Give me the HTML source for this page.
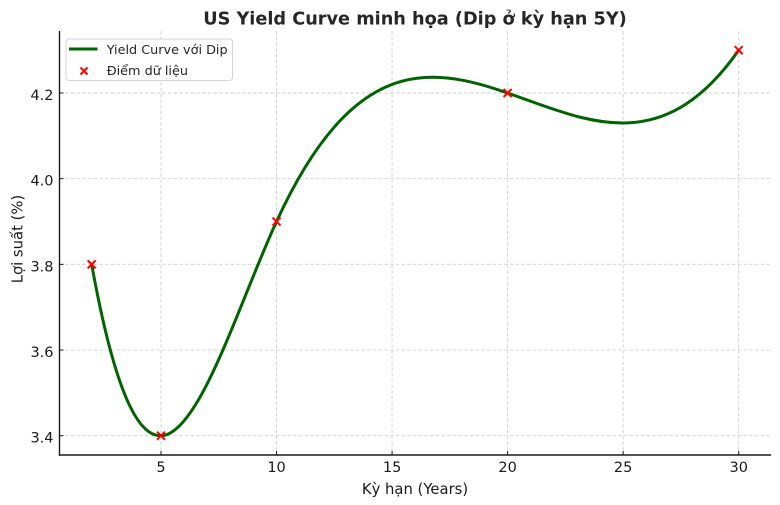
<!DOCTYPE html>
<html>
<head>
<meta charset="utf-8">
<style>
  html, body { margin: 0; padding: 0; background: #ffffff; }
  svg { display: block; }
  text { font-family: "DejaVu Sans", "Liberation Sans", "Noto Sans CJK SC", sans-serif; }
</style>
</head>
<body>
<svg width="780" height="505" viewBox="0 0 780 505" xmlns="http://www.w3.org/2000/svg">
  <rect x="0" y="0" width="780" height="505" fill="#ffffff"/>

  <!-- grid -->
  <g stroke="#cfcfcf" stroke-width="0.9" stroke-dasharray="3.5,2.2" fill="none">
    <line x1="161" y1="31" x2="161" y2="455"/>
    <line x1="276.54" y1="31" x2="276.54" y2="455"/>
    <line x1="392.08" y1="31" x2="392.08" y2="455"/>
    <line x1="507.62" y1="31" x2="507.62" y2="455"/>
    <line x1="623.16" y1="31" x2="623.16" y2="455"/>
    <line x1="738.7" y1="31" x2="738.7" y2="455"/>
    <line x1="59.5" y1="93" x2="771" y2="93"/>
    <line x1="59.5" y1="178.68" x2="771" y2="178.68"/>
    <line x1="59.5" y1="264.36" x2="771" y2="264.36"/>
    <line x1="59.5" y1="350.04" x2="771" y2="350.04"/>
    <line x1="59.5" y1="435.72" x2="771" y2="435.72"/>
  </g>

  <!-- curve -->
  <path d="M91.68,264.36 C153.30,604.72 214.92,355.55 276.54,221.52 C430.59,-113.56 584.64,271.0 738.70,50.16"
        fill="none" stroke="#006400" stroke-width="3" stroke-linecap="butt"/>

  <!-- markers -->
  <g stroke="#ff0000" stroke-width="2">
    <path d="M87.68,260.36 L95.68,268.36 M87.68,268.36 L95.68,260.36"/>
    <path d="M157,431.72 L165,439.72 M157,439.72 L165,431.72"/>
    <path d="M272.54,217.52 L280.54,225.52 M272.54,225.52 L280.54,217.52"/>
    <path d="M503.62,89 L511.62,97 M503.62,97 L511.62,89"/>
    <path d="M734.7,46.16 L742.7,54.16 M734.7,54.16 L742.7,46.16"/>
  </g>

  <!-- spines -->
  <g stroke="#1a1a1a" stroke-width="1.4" fill="none">
    <line x1="59.5" y1="31" x2="59.5" y2="455.7"/>
    <line x1="58.8" y1="455" x2="771" y2="455"/>
  </g>

  <!-- ticks (inward) -->
  <g stroke="#1a1a1a" stroke-width="1">
    <line x1="161" y1="455" x2="161" y2="451"/>
    <line x1="276.54" y1="455" x2="276.54" y2="451"/>
    <line x1="392.08" y1="455" x2="392.08" y2="451"/>
    <line x1="507.62" y1="455" x2="507.62" y2="451"/>
    <line x1="623.16" y1="455" x2="623.16" y2="451"/>
    <line x1="738.7" y1="455" x2="738.7" y2="451"/>
    <line x1="59.5" y1="93" x2="63.5" y2="93"/>
    <line x1="59.5" y1="178.68" x2="63.5" y2="178.68"/>
    <line x1="59.5" y1="264.36" x2="63.5" y2="264.36"/>
    <line x1="59.5" y1="350.04" x2="63.5" y2="350.04"/>
    <line x1="59.5" y1="435.72" x2="63.5" y2="435.72"/>
  </g>

  <!-- x tick labels -->
  <g font-size="14.5" fill="#1a1a1a" text-anchor="middle">
    <text x="161" y="472">5</text>
    <text x="276.54" y="472">10</text>
    <text x="392.08" y="472">15</text>
    <text x="507.62" y="472">20</text>
    <text x="623.16" y="472">25</text>
    <text x="738.7" y="472">30</text>
  </g>

  <!-- y tick labels -->
  <g font-size="14.5" fill="#1a1a1a" text-anchor="end">
    <text x="53.5" y="100">4.2</text>
    <text x="53.5" y="185.7">4.0</text>
    <text x="53.5" y="271.4">3.8</text>
    <text x="53.5" y="357">3.6</text>
    <text x="53.5" y="442.7">3.4</text>
  </g>

  <!-- axis labels -->
  <text x="415" y="494" font-size="14.8" fill="#1a1a1a" text-anchor="middle">Kỳ hạn (Years)</text>
  <text x="0" y="0" font-size="14.8" fill="#1a1a1a" text-anchor="middle" transform="translate(22.5,239) rotate(-90)">Lợi suất (%)</text>

  <!-- title -->
  <text x="415" y="24.5" font-size="17.7" font-weight="bold" fill="#262626" text-anchor="middle">US Yield Curve minh họa (Dip ở kỳ hạn 5Y)</text>

  <!-- legend -->
  <rect x="66" y="39" width="166.5" height="41.5" rx="3" ry="3" fill="#ffffff" fill-opacity="0.85" stroke="#d4d4d4" stroke-width="1"/>
  <line x1="69" y1="49" x2="97.5" y2="49" stroke="#006400" stroke-width="3"/>
  <path d="M80.5,67.5 L87.5,74.5 M80.5,74.5 L87.5,67.5" stroke="#ff0000" stroke-width="2"/>
  <g font-size="12.8" fill="#262626">
    <text x="106.7" y="54">Yield Curve với Dip</text>
    <text x="106.7" y="75">Điểm dữ liệu</text>
  </g>
</svg>
</body>
</html>
